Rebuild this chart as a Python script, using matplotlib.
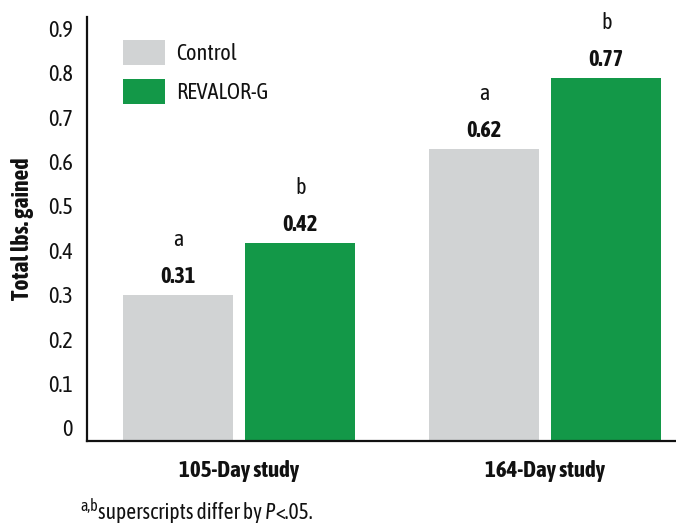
import matplotlib
matplotlib.use("Agg")
import matplotlib.pyplot as plt
import numpy as np
from matplotlib.patches import Patch
from matplotlib.transforms import ScaledTranslation

categories = ["105-Day study", "164-Day study"]
control = [0.31, 0.62]
revalor = [0.42, 0.77]
control_sup = ["a", "a"]
revalor_sup = ["b", "b"]
series_names = ["Control", "REVALOR-G"]
yticks = [0, 0.1, 0.2, 0.3, 0.4, 0.5, 0.6, 0.7, 0.8, 0.9]
ytick_labels = ["0", "0.1", "0.2", "0.3", "0.4", "0.5", "0.6", "0.7", "0.8", "0.9"]

FONT = ["Asap Condensed", "DejaVu Sans"]
plt.rcParams['font.family'] = FONT
GRAY = "#d1d3d4"
GREEN = "#139848"
TXT = "#111111"

fig = plt.figure(figsize=(6.76, 5.23), dpi=100)
ax = fig.add_axes([87/676, 1-441/523, 1-87/676, (441-17)/523])

x = np.arange(len(categories))
off = 0.2
w = 0.36
ax.bar(x - off, control, w, color=GRAY)
ax.bar(x + off, revalor, w, color=GREEN)

for xs, vals, sups in [(x - off, control, control_sup), (x + off, revalor, revalor_sup)]:
    for xi, v, s in zip(xs, vals, sups):
        ax.annotate(f"{v:.2f}", (xi, v), xytext=(0, 18), textcoords="offset pixels",
                    ha="center", va="center", fontsize=16, fontweight="bold", color=TXT)
        ax.annotate(s, (xi, v), xytext=(0, 55), textcoords="offset pixels",
                    ha="center", va="center", fontsize=16, color=TXT)

ax.set_ylim(0, 0.9)
ax.set_xlim(-0.497, 1.428)
ax.set_yticks(yticks)
ax.set_yticklabels(ytick_labels, fontsize=16, color=TXT)
ax.tick_params(axis="y", length=0, pad=10)
# the original artwork spaces the tick labels slightly tighter than the axis scale
for k, lab in enumerate(ax.get_yticklabels()):
    dy = (13 - 2.7 * k) / 100.0
    lab.set_transform(lab.get_transform() + ScaledTranslation(0, dy, fig.dpi_scale_trans))
ax.set_xticks(x)
ax.set_xticklabels(categories, fontsize=16.5, fontweight="bold", color=TXT)
ax.tick_params(axis="x", length=0, pad=14)
for sp in ["top", "right"]:
    ax.spines[sp].set_visible(False)
for sp in ["left", "bottom"]:
    ax.spines[sp].set_linewidth(1.6)
    ax.spines[sp].set_color(TXT)

fig.text(22/676, 1-229/523, "Total lbs. gained", rotation=90, ha="center", va="center",
         fontsize=17, fontweight="bold", color=TXT)

handles = [Patch(facecolor=GRAY), Patch(facecolor=GREEN)]
leg = ax.legend(handles, series_names, loc="upper left",
                bbox_to_anchor=((123-87)/589, 1-(40-17)/424),
                frameon=False, fontsize=16, handlelength=1.9, handleheight=1.35,
                handletextpad=0.5, labelspacing=0.62, borderpad=0, borderaxespad=0)
for t in leg.get_texts():
    t.set_color(TXT)

t1 = fig.text(80/676, 1-511/523, "a,b", fontsize=11.5, color=TXT, va="baseline")
t2 = ax.annotate("superscripts differ by ", xy=(1, 0.0), xycoords=t1, xytext=(0, -4),
                 textcoords="offset pixels", va="baseline", fontsize=15.5, color=TXT,
                 annotation_clip=False)
t3 = ax.annotate("P", xy=(1, 0), xycoords=t2, va="bottom", fontsize=15.5,
                 style="italic", color=TXT, annotation_clip=False)
t4 = ax.annotate("<.05.", xy=(1, 0), xycoords=t3, va="bottom", fontsize=15.5,
                 color=TXT, annotation_clip=False)

fig.savefig("out.png", dpi=100)
